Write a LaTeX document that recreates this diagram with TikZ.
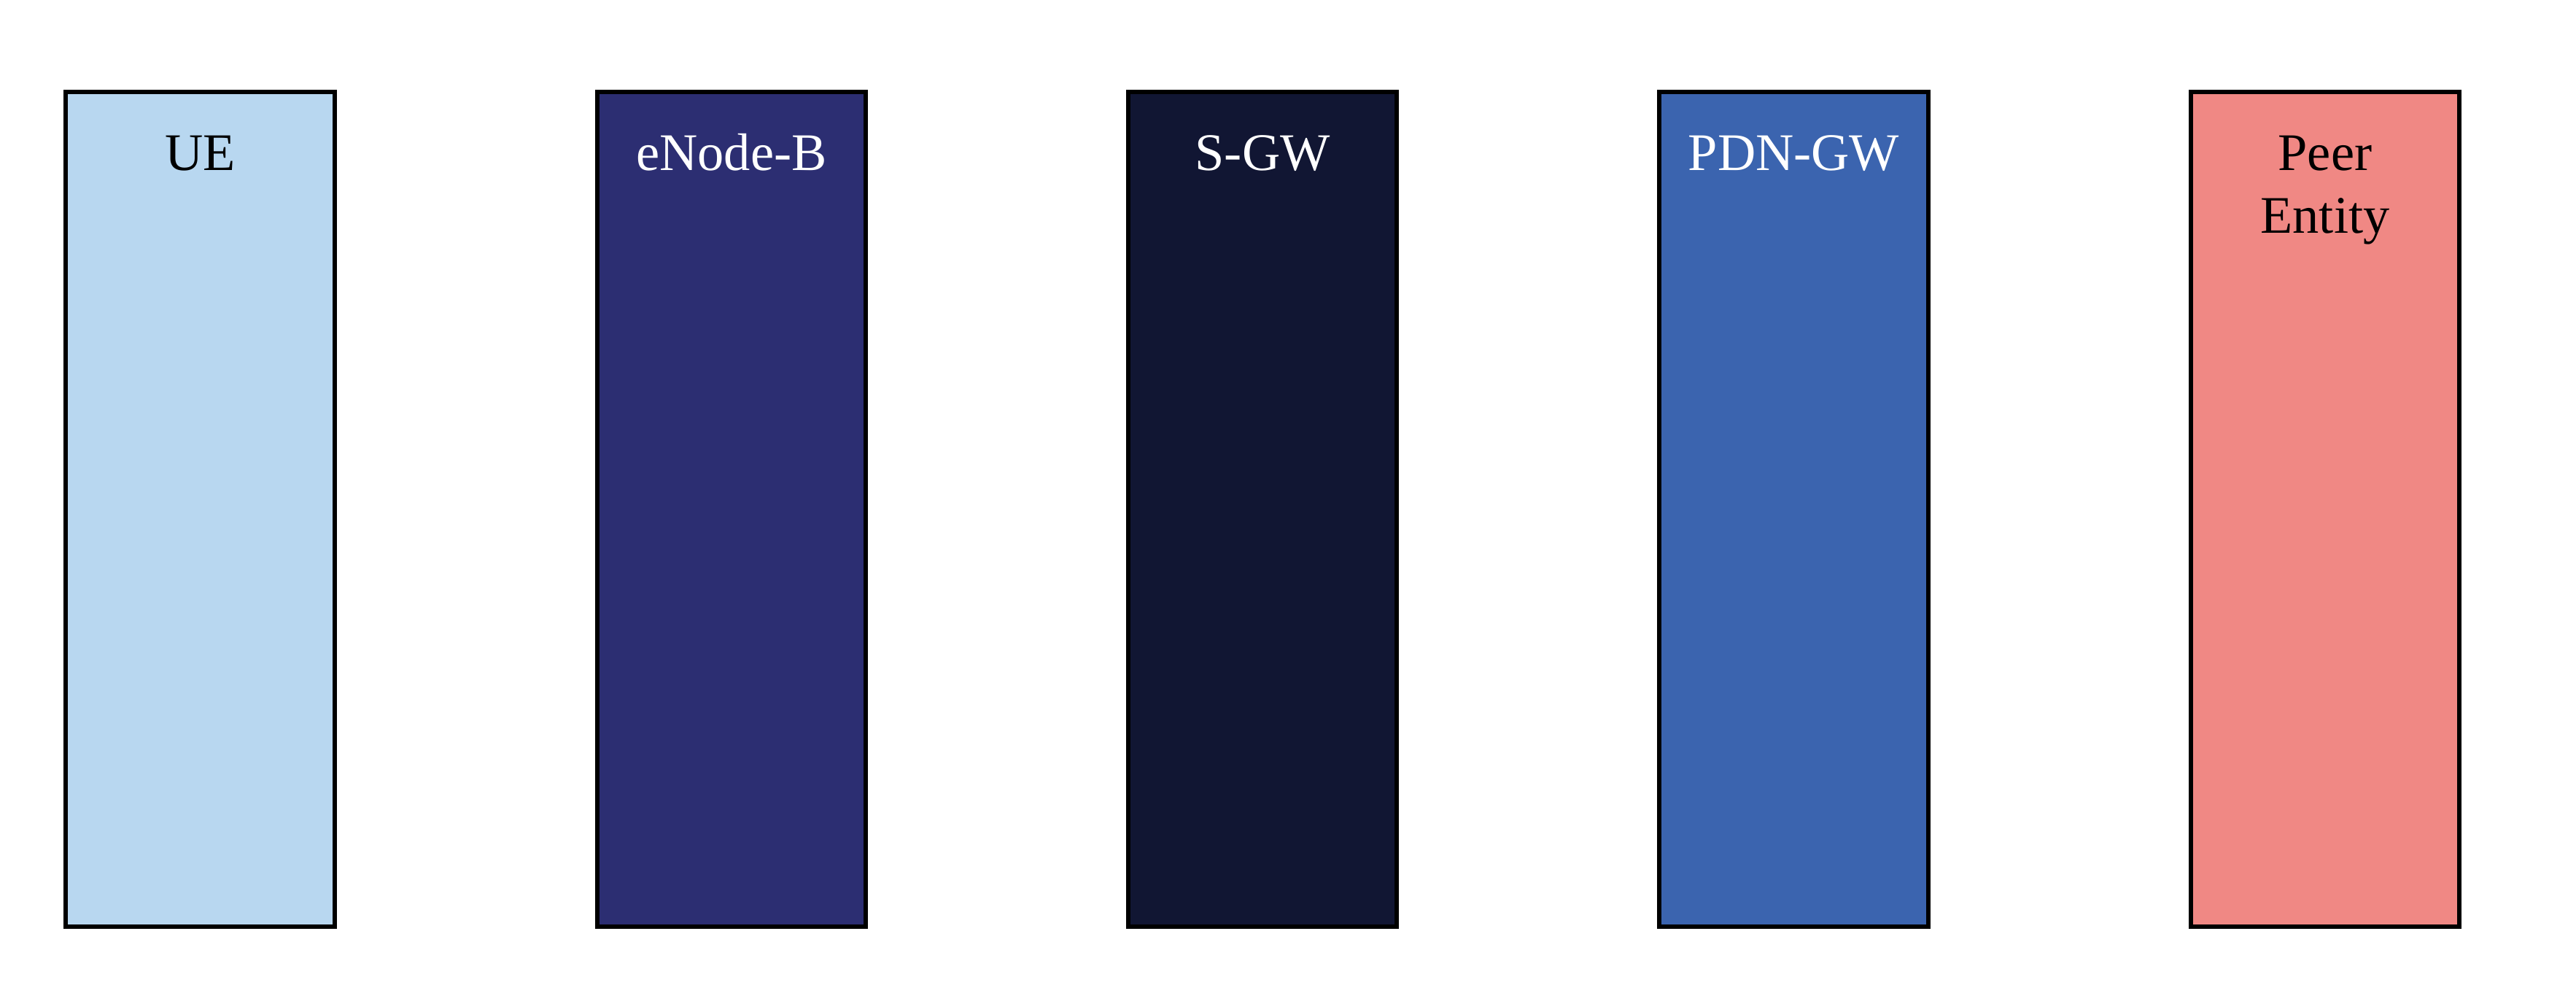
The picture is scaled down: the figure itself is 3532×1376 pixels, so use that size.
\documentclass[tikz,border=0pt]{standalone}
\usepackage{fontspec}
\setmainfont{Liberation Serif}
\definecolor{cUE}{HTML}{B8D7F0}
\definecolor{cENB}{HTML}{2C2E72}
\definecolor{cSGW}{HTML}{111633}
\definecolor{cPGW}{HTML}{3B64AF}
\definecolor{cPeer}{HTML}{F08884}
\begin{document}
\begin{tikzpicture}[x=0.25pt,y=-0.25pt,
  entity/.style={draw=black, line width=1.5pt, rectangle, inner sep=0pt, outer sep=0pt,
    minimum width=92.1pt, minimum height=286.1pt},
  lbl/.style={anchor=base, inner sep=0pt, font=\fontsize{18.1}{21.5}\selectfont}]
\useasboundingbox (0,0) rectangle (3532,1376);
\node[entity, fill=cUE]   (ue)   at (274.5,697.85) {};
\node[entity, fill=cENB]  (enb)  at (1002.85,697.85) {};
\node[entity, fill=cSGW]  (sgw)  at (1731.2,697.85) {};
\node[entity, fill=cPGW]  (pgw)  at (2459.55,697.85) {};
\node[entity, fill=cPeer] (peer) at (3187.9,697.85) {};
\node[lbl, text=black] (tue)  at (274.5,234) {UE};
\node[lbl, text=white] (tenb) at (1002.85,234) {eNode-B};
\node[lbl, text=white] (tsgw) at (1731.2,234) {S-GW};
\node[lbl, text=white] (tpgw) at (2459.55,234) {PDN-GW};
\node[lbl, text=black] (tpeer1) at (3187.9,234) {Peer};
\node[lbl, text=black] (tpeer2) at (3187.9,320) {Entity};
\end{tikzpicture}
\end{document}
